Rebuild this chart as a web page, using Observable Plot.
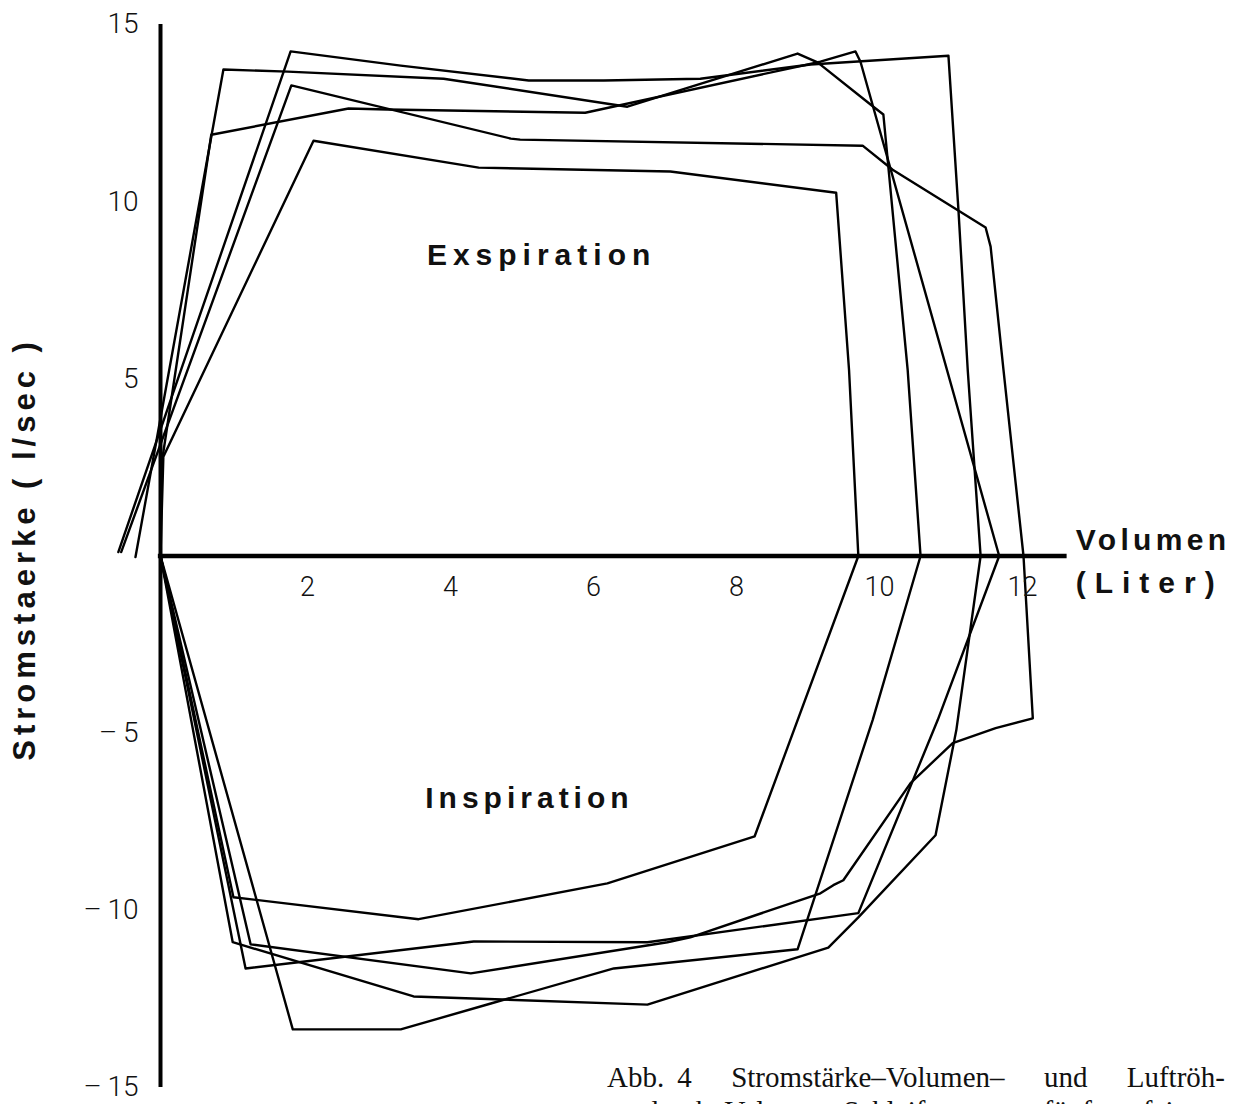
<!DOCTYPE html>
<html>
<head>
<meta charset="utf-8">
<script src="https://cdn.jsdelivr.net/npm/d3@7"></script>
<script src="https://cdn.jsdelivr.net/npm/@observablehq/plot@0.6"></script>
<style>
  html, body { margin: 0; padding: 0; background: #fff; }
  body { width: 1238px; height: 1104px; overflow: hidden; position: relative; }
  #chart { position: absolute; left: 0; top: 0; }
  #caption { position: absolute; left: 607px; top: 1060px; width: 618px;
             font-family: "Liberation Serif", "DejaVu Serif", serif; font-size: 29px; line-height: 34px; color: #111; }
  #caption div { text-align: justify; text-align-last: justify; white-space: nowrap; }
</style>
</head>
<body>
<div id="chart"></div>
<div id="caption">
  <div>Abb. 4&nbsp;&nbsp; Stromstärke–Volumen–&nbsp;&nbsp; und&nbsp;&nbsp; Luftröh-</div>
  <div>rendruck–Volumen–Schleifen von fünf aufeinan-</div>
</div>
<script>
// Five flow-volume loops: [volume (Liter), flow (l/sec)]
const loopA = [[-0.59, 0.11], [1.82, 14.24], [3.36, 13.84], [5.15, 13.42], [6.20, 13.42], [7.55, 13.47],
  [9.09, 13.87], [11.02, 14.12], [11.16, 9.77], [11.29, 5.25], [11.47, 0], [11.13, -4.92], [10.84, -7.88],
  [9.76, -10.20], [9.34, -11.05], [6.81, -12.66], [3.54, -12.43], [1.01, -10.90], [0, 0]];
const loopB = [[-0.35, -0.03], [0.88, 13.73], [1.78, 13.67], [3.96, 13.47], [6.53, 12.68], [8.91, 14.18],
  [9.19, 13.93], [9.97, 12.68], [10.11, 12.46], [10.45, 5.25], [10.63, 0], [9.96, -4.63], [8.91, -11.10],
  [6.34, -11.64], [4.62, -12.63], [3.36, -13.36], [1.85, -13.36], [0, 0]];
const loopC = [[0, 0], [0, 2.4], [0.71, 11.89], [2.63, 12.63], [3.17, 12.60], [5.94, 12.51], [9.23, 13.95],
  [9.72, 14.24], [9.79, 13.95], [11.73, 0], [10.87, -4.63], [9.76, -10.08], [6.81, -10.90], [4.38, -10.88],
  [1.19, -11.64], [0, 0]];
const loopD = [[-0.55, 0.11], [1.83, 13.28], [4.90, 11.78], [5.03, 11.75], [9.82, 11.58], [10.24, 10.90],
  [11.54, 9.27], [11.61, 8.73], [11.79, 5.25], [12.07, 0], [12.20, -4.58], [11.68, -4.86], [11.08, -5.28],
  [10.49, -6.41], [9.55, -9.15], [9.41, -9.29], [9.23, -9.52], [7.41, -10.76], [7.09, -10.90],
  [4.34, -11.78], [1.26, -10.96], [0, 0]];
const loopE = [[0, 0], [0.04, 2.8], [2.14, 11.72], [4.45, 10.96], [7.13, 10.85], [9.45, 10.25], [9.63, 5.25],
  [9.76, 0], [8.31, -7.91], [6.25, -9.24], [3.61, -10.25], [1.02, -9.63], [0, 0]];

const loopNames = ["A", "B", "C", "D", "E"];
const xTicks = [2, 4, 6, 8, 10, 12];
const yTicks = [15, 10, 5, -5, -10, -15];
const yTitle = "Stromstaerke ( l/sec )";
const xTitle1 = "Volumen";
const xTitle2 = "(Liter)";
const regionLabels = ["Exspiration", "Inspiration"];

const loops = [loopA, loopB, loopC, loopD, loopE];
const rows = loops.flatMap((pts, i) => pts.map(([v, f]) => ({loop: loopNames[i], v, f})));

const sans = "'Liberation Sans', Arial, sans-serif";
const light = "Roboto, 'Liberation Sans', sans-serif";

const chart = Plot.plot({
  width: 1238,
  height: 1104,
  marginLeft: 160,
  marginRight: 220,
  marginTop: 24,
  marginBottom: 17,
  x: {domain: [0, 12], axis: null},
  y: {domain: [-15, 15], axis: null},
  style: {background: "white", color: "black"},
  marks: [
    Plot.ruleX([0], {y1: -15, y2: 15, stroke: "black", strokeWidth: 4}),
    Plot.ruleY([0], {x1: -0.03, x2: 12.68, stroke: "black", strokeWidth: 4.5}),
    Plot.line(rows, {x: "v", y: "f", z: "loop", stroke: "black", strokeWidth: 2.4, curve: "linear"}),
    Plot.text(xTicks, {x: d => d, y: 0, text: d => String(d), dy: 31, dx: 4, lineAnchor: "middle",
      fontSize: 27, fontFamily: light, fontWeight: 300, fill: "#111"}),
    Plot.text(yTicks, {x: 0, y: d => d, text: d => d < 0 ? "\u2013\u2009" + (-d) : String(d),
      textAnchor: "end", dx: -22, lineAnchor: "middle", fontSize: 28, fontFamily: light, fontWeight: 300, fill: "#111"}),
    Plot.text([yTitle], {x: -1.75, y: 0.2, text: d => d, rotate: -90, textAnchor: "middle", lineAnchor: "bottom",
      fontSize: 31, fontWeight: "bold", fontFamily: sans, fill: "#111"}),
    Plot.text([xTitle1], {x: 12.8, y: 0.17, text: d => d, textAnchor: "start", lineAnchor: "bottom",
      fontSize: 30, fontWeight: "bold", fontFamily: sans, fill: "#111"}),
    Plot.text([xTitle2], {x: 12.8, y: -1.05, text: d => d, textAnchor: "start", lineAnchor: "bottom",
      fontSize: 30, fontWeight: "bold", fontFamily: sans, fill: "#111"}),
    Plot.text([regionLabels[0]], {x: 5.33, y: 8.22, text: d => d, textAnchor: "middle", lineAnchor: "bottom",
      fontSize: 30, fontWeight: "bold", fontFamily: sans, fill: "#111"}),
    Plot.text([regionLabels[1]], {x: 5.16, y: -7.12, text: d => d, textAnchor: "middle", lineAnchor: "bottom",
      fontSize: 30, fontWeight: "bold", fontFamily: sans, fill: "#111"})
  ]
});

// letter spacing for the hand-lettered labels
const spacing = new Map([[yTitle, 5], [xTitle1, 4.3], [xTitle2, 9], [regionLabels[0], 6], [regionLabels[1], 5]]);
chart.querySelectorAll("text").forEach(t => {
  const s = spacing.get(t.textContent);
  if (s != null) t.setAttribute("letter-spacing", s);
});

document.getElementById("chart").appendChild(chart);
</script>
</body>
</html>
